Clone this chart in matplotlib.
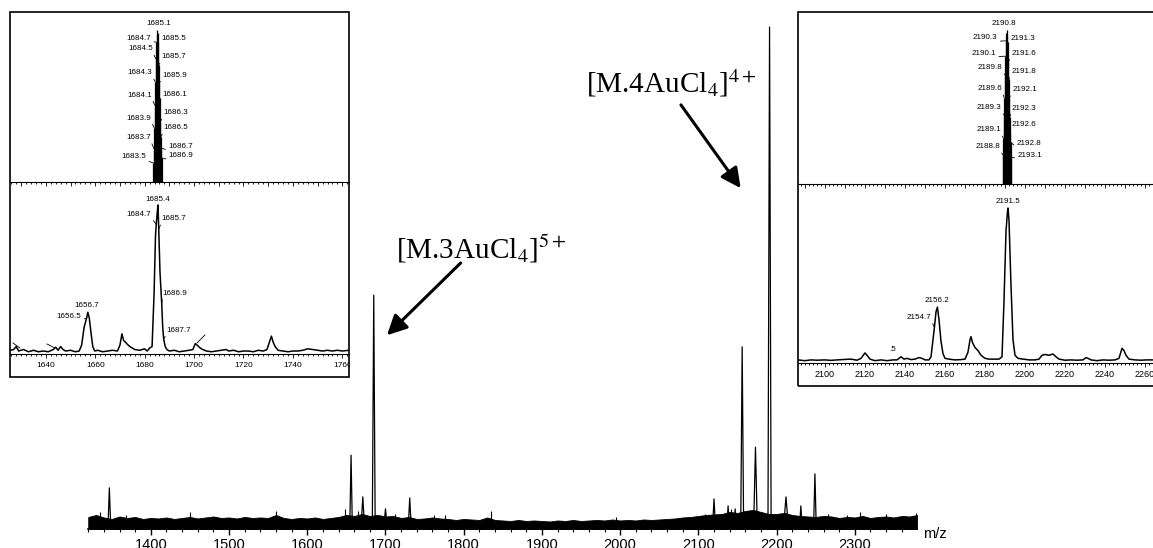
import numpy as np
import matplotlib.pyplot as plt
from matplotlib.patches import Rectangle
from matplotlib.ticker import MultipleLocator

plt.rcParams['font.family'] = ['Liberation Sans', 'DejaVu Sans']
plt.rcParams['mathtext.fontset'] = 'stix'

W, H = 1153, 548

# ---------------- main spectrum (intensity, % of the 2191 peak) ----------------
noise_mz = np.arange(1320, 2390, 10)
noise_top = [2.4, 2.8, 2.3, 2.0, 2.5, 2.2, 2.4, 2.0, 2.2, 2.1,
             2.3, 2.0, 2.2, 2.4, 2.1, 2.3, 2.5, 2.2, 2.3, 2.1,
             2.4, 2.2, 2.3, 2.2, 2.8, 2.2, 2.0, 2.2, 2.1, 2.3,
             2.0, 2.2, 2.4, 2.8, 2.6, 3.0, 2.6, 2.8, 2.5, 2.6,
             2.2, 2.4, 2.0, 2.1, 2.3, 2.1, 2.0, 1.8, 2.0, 1.9,
             1.8, 2.3, 1.8, 1.7, 1.6, 1.8, 1.6, 1.7, 1.6, 1.5,
             1.7, 1.6, 1.8, 1.6, 1.7, 1.8, 1.7, 1.9, 1.7, 1.8,
             1.7, 1.9, 1.8, 1.9, 2.0, 2.1, 2.3, 2.4, 2.6, 2.8,
             2.9, 3.0, 3.4, 3.2, 3.6, 3.8, 3.4, 3.0, 3.0, 3.2,
             2.8, 2.6, 2.5, 2.4, 2.6, 2.5, 2.2, 2.4, 2.3, 2.6,
             2.2, 2.4, 2.5, 2.3, 2.6, 2.5, 2.8]
spike_mz = [1335, 1368, 1450, 1560, 1648, 1665, 1712, 1762, 1776, 1835,
            1995, 2108, 2142, 2266, 2290, 2306, 2340, 2378]
spike_int = [3.3, 2.8, 3.3, 3.6, 4.0, 3.5, 3.0, 2.8, 2.7, 3.6,
             2.4, 3.0, 4.0, 3.0, 2.8, 3.4, 2.9, 3.2]
peak_mz = [1347, 1656, 1671, 1685, 1700, 1731, 2120, 2138, 2147, 2156,
           2173, 2191, 2212, 2231, 2249]
peak_int = [8.2, 14.7, 6.4, 46.6, 4.0, 6.2, 6.0, 4.6, 4.0, 36.3,
            16.3, 100, 6.4, 4.6, 11.0]
peak_hw = [1.5, 1.5, 1.8, 1.8, 1.5, 1.5, 1.5, 1.2, 1.0, 1.8,
           2.2, 2.0, 2.5, 1.2, 1.5]
main_ticks = [1400, 1500, 1600, 1700, 1800, 1900, 2000, 2100, 2200, 2300]

# ---------------- left inset: [M.3AuCl4]5+ ----------------
left_iso_mz = [1683.5, 1683.7, 1683.9, 1684.1, 1684.3, 1684.5, 1684.7, 1684.9, 1685.1,
               1685.3, 1685.5, 1685.7, 1685.9, 1686.1, 1686.3, 1686.5, 1686.7, 1686.9]
left_iso_int = [12.5, 22, 35.5, 50.6, 65.8, 81, 92, 97, 100,
                98, 92, 77, 65, 55, 39.5, 29.6, 22.4, 15.8]
left_trace_mz = [1625.5, 1627, 1628, 1629, 1631, 1633, 1635, 1637, 1639, 1641,
                 1643, 1644, 1645, 1646, 1647, 1648, 1650, 1652, 1653.5, 1654.5,
                 1655.5, 1656.5, 1657, 1657.6, 1658.3, 1659, 1659.8, 1661, 1663, 1665,
                 1667, 1669, 1670, 1670.8, 1671.5, 1672.2, 1673, 1674, 1675, 1676,
                 1678, 1680, 1681, 1682, 1683, 1683.8, 1684.4, 1684.7, 1685.1, 1685.4,
                 1685.7, 1686.2, 1686.9, 1687.3, 1687.7, 1688.3, 1689, 1690, 1692, 1694,
                 1696, 1698, 1699.5, 1700.5, 1701.5, 1702.5, 1703.5, 1705, 1707, 1709,
                 1711, 1713, 1714, 1716, 1718, 1720, 1722, 1724, 1726, 1728,
                 1729.5, 1730.5, 1731.3, 1732, 1732.8, 1734, 1736, 1738, 1740, 1742,
                 1744, 1746, 1748, 1750, 1752, 1754, 1756, 1758, 1760, 1762.7]
left_trace_int = [2.5, 3, 5, 2, 3, 1.5, 2.5, 1.5, 2, 1.5,
                  3, 4.5, 2.5, 5, 3, 2, 2.5, 1.5, 2, 6,
                  18, 24, 28, 24, 14, 5, 2, 2.5, 1.5, 2,
                  2.5, 2, 6, 13.5, 9, 8, 6.5, 5, 4, 3,
                  2.5, 3.5, 2, 4, 5, 40, 80, 87, 95, 100,
                  84, 55, 34, 18, 10, 5, 3, 2, 2.5, 1.5,
                  2, 2.5, 3, 7, 5.5, 4, 3, 2, 1.5, 2,
                  2.5, 3, 2, 2.5, 1.5, 2, 2, 1.5, 2.5, 2,
                  3, 8, 12, 8, 5, 2.5, 2, 1.5, 2, 2,
                  2.5, 3.5, 3, 2.5, 2, 2.5, 2, 2.5, 2, 2.5]
left_peak_mz = [1685.4, 1684.7, 1685.7, 1686.9, 1687.7, 1656.7, 1656.5]
left_peak_int = [100, 87, 84, 34, 10, 28, 24]
left_ticks = [1640, 1660, 1680, 1700, 1720, 1740, 1760]

# ---------------- right inset: [M.4AuCl4]4+ ----------------
right_iso_mz = [2188.8, 2189.1, 2189.3, 2189.6, 2189.8, 2190.1, 2190.3, 2190.6, 2190.8,
                2191.1, 2191.3, 2191.6, 2191.8, 2192.1, 2192.3, 2192.6, 2192.8, 2193.1]
right_iso_int = [19, 30, 45, 56, 71, 83, 93, 98, 100,
                 97, 92, 79, 68, 56, 43.5, 33, 27, 17.5]
right_trace_mz = [2086.5, 2090, 2093, 2096, 2100, 2103, 2106, 2110, 2113, 2116,
                  2118, 2120, 2121, 2122.5, 2125, 2128, 2131, 2134, 2136, 2138,
                  2139.5, 2141, 2143, 2145, 2147, 2148.5, 2150, 2152, 2153, 2154,
                  2154.7, 2155.5, 2156.2, 2157, 2158, 2159, 2160, 2162, 2165, 2168,
                  2170, 2171.5, 2172.5, 2173, 2173.8, 2175, 2176.5, 2178, 2180, 2182,
                  2185, 2187, 2188.5, 2189.5, 2190.5, 2191.2, 2191.5, 2192, 2193, 2194,
                  2195, 2196.5, 2199, 2202, 2205, 2207, 2208.5, 2210, 2212, 2214,
                  2215.5, 2217, 2220, 2223, 2226, 2229, 2230.5, 2231.5, 2233, 2236,
                  2239, 2242, 2245, 2247, 2248.5, 2249.5, 2250.5, 2252, 2255, 2258,
                  2261, 2264]
right_trace_int = [2, 1.5, 2, 1.8, 2, 1.7, 2, 2.3, 2.5, 1.8,
                   3, 6.5, 5, 2.5, 1.5, 2, 1.5, 2, 2, 4,
                   2.5, 3, 2.2, 2.5, 3.5, 3, 2, 2, 4, 15,
                   23, 33, 36, 28, 14, 6, 3, 2.5, 2, 2.2,
                   2.5, 7, 15, 17, 13, 10, 8, 5, 3, 2.5,
                   2.5, 2.5, 4, 40, 85, 97, 100, 92, 50, 15,
                   5, 3, 2.5, 2, 2, 2.5, 5, 5.5, 5, 5.8,
                   4, 2.5, 1.8, 2, 1.8, 2, 3.5, 3, 2, 1.5,
                   2, 1.8, 2, 3, 9.5, 8, 5, 2.5, 2, 1.8,
                   2, 2]
right_peak_mz = [2191.5, 2156.2, 2154.7]
right_peak_int = [100, 36, 23]
right_ticks = [2100, 2120, 2140, 2160, 2180, 2200, 2220, 2240, 2260]


def px_box(x0, y0, x1, y1):
    # pixel box (top-left origin) -> figure fraction [l, b, w, h]
    return [x0 / W, 1 - y1 / H, (x1 - x0) / W, (y1 - y0) / H]


fig = plt.figure(figsize=(W / 100, H / 100), dpi=100)

# ---------------- main axes ----------------
ax = fig.add_axes(px_box(88, 12, 917, 529))
ax.set_xlim(1319.7, 2379.5)
ax.set_ylim(0, 103)
for s in ['left', 'right', 'top']:
    ax.spines[s].set_visible(False)
ax.spines['bottom'].set_linewidth(1.2)
ax.set_yticks([])
ax.set_xticks(main_ticks)
ax.xaxis.set_minor_locator(MultipleLocator(20))
ax.tick_params(axis='x', which='major', length=4.3, width=1.0, pad=2.2, labelsize=10.5)
ax.tick_params(axis='x', which='minor', length=2.2, width=0.8)

ax.fill_between(noise_mz, 0, noise_top, color='black', lw=0.6)
ax.vlines(spike_mz, 0, spike_int, color='black', lw=0.8)
for c, h, w in zip(peak_mz, peak_int, peak_hw):
    ax.plot([c - w, c, c + w], [1.5, h, 1.5], color='black', lw=0.9)

fig.text(923 / W, 1 - 538 / H, 'm/z', fontsize=10.5, va='baseline')

arrow = dict(arrowstyle='-|>,head_length=0.4,head_width=0.2', mutation_scale=30,
             lw=2.2, color='black', shrinkA=0, shrinkB=0)
ax.text(1713.3, 53.8, r'[M.3AuCl$_4$]$^{5+}$', fontsize=21,
        family='Liberation Serif', va='baseline')
ax.annotate('', xy=(1701.9, 38.6), xytext=(1796.1, 53.0), arrowprops=arrow)
ax.text(1956.6, 86.9, r'[M.4AuCl$_4$]$^{4+}$', fontsize=21,
        family='Liberation Serif', va='baseline')
ax.annotate('', xy=(2154.1, 67.9), xytext=(2077.7, 84.5), arrowprops=arrow)


# ---------------- insets ----------------
def frame(x0, y0, x1, y1):
    bg = Rectangle((x0 / W, 1 - y1 / H), (x1 - x0) / W, (y1 - y0) / H,
                   transform=fig.transFigure, facecolor='white', edgecolor='none', zorder=2)
    fr = Rectangle((x0 / W, 1 - y1 / H), (x1 - x0) / W, (y1 - y0) / H,
                   transform=fig.transFigure, facecolor='none', edgecolor='black',
                   lw=1.2, zorder=5)
    fig.add_artist(bg)
    fig.add_artist(fr)


def panel(box, xlim, ylim):
    a = fig.add_axes(box, zorder=3)
    a.set_facecolor('none')
    a.set_xlim(*xlim)
    a.set_ylim(*ylim)
    for s in ['left', 'right', 'top']:
        a.spines[s].set_visible(False)
    a.spines['bottom'].set_linewidth(0.8)
    a.set_yticks([])
    return a


def iso_labels(a, mz, inten, offsets, fs):
    for m, h in zip(mz, inten):
        key = f'{m:.1f}'
        if key not in offsets:
            continue
        dx, dy, side = offsets[key]
        if side == 'top':
            a.annotate(key, xy=(m, h), xytext=(dx, dy), textcoords='offset pixels',
                       ha='center', va='bottom', fontsize=fs)
        else:
            ha = 'right' if side == 'right' else 'left'
            rel = (1, 0) if side == 'right' else (0, 0)
            a.annotate(key, xy=(m, h), xytext=(dx, dy), textcoords='offset pixels',
                       ha=ha, va='center', fontsize=fs,
                       arrowprops=dict(arrowstyle='-', lw=0.6, color='black',
                                       shrinkA=0, shrinkB=0, relpos=rel))


fs_lab = 5.8

# left inset
frame(10, 12, 349, 377)
lt = panel(px_box(10, 12, 349, 182), (1625.5, 1762.7), (0, 111.8))
lt.set_xticks([])
lt.xaxis.set_major_locator(MultipleLocator(10))
lt.xaxis.set_minor_locator(MultipleLocator(2))
lt.tick_params(axis='x', which='major', length=2.6, width=0.6, labelbottom=False)
lt.tick_params(axis='x', which='minor', length=1.5, width=0.6)
lt.vlines(left_iso_mz, 0, left_iso_int, color='black', lw=0.9)
left_offsets = {
    '1683.5': (-7, 6, 'right'), '1683.7': (-3, 11, 'right'), '1683.9': (-3, 10, 'right'),
    '1684.1': (-3, 10, 'right'), '1684.3': (-3, 9, 'right'), '1684.5': (-3, 10, 'right'),
    '1684.7': (-5, 4, 'right'), '1685.1': (2, 3, 'top'), '1685.5': (3, 4, 'left'),
    '1685.7': (3, 8, 'left'), '1685.9': (3, 8, 'left'), '1686.1': (3, 4, 'left'),
    '1686.3': (3, 9, 'left'), '1686.5': (3, 9, 'left'), '1686.7': (7, 1, 'left'),
    '1686.9': (7, 2, 'left'),
}
iso_labels(lt, left_iso_mz, left_iso_int, left_offsets, fs_lab)

lb = panel(px_box(10, 182, 349, 354), (1625.5, 1762.7), (0, 115.4))
lb.set_xticks(left_ticks)
lb.xaxis.set_minor_locator(MultipleLocator(2))
lb.tick_params(axis='x', which='major', length=2.8, width=0.6, pad=3.0, labelsize=6.0)
lb.tick_params(axis='x', which='minor', length=1.5, width=0.6)
lb.plot(left_trace_mz, left_trace_int, color='black', lw=1.1)
left_peak_offsets = [(0, 2, 'top'), (-5, 10, 'right'), (3, 10, 'left'), (1, 10, 'left'),
                     (3, 9, 'left'), (0, 3, 'top'), (-5, 2, 'right')]
for m, h, (dx, dy, side) in zip(left_peak_mz, left_peak_int, left_peak_offsets):
    iso_labels(lb, [m], [h], {f'{m:.1f}': (dx, dy, side)}, fs_lab)
# leader lines of labels that fall outside the inset
for (x0, y0), (x1, y1) in [((1626.7, 7.4), (1629.5, 4.0)), ((1640.5, 6.7), (1643.7, 4.0)),
                           ((1704.4, 12.8), (1701.2, 7.4))]:
    lb.plot([x0, x1], [y0, y1], color='black', lw=0.6)
# clip the last tick label at the inset border
fig.add_artist(Rectangle((350 / W, 1 - 376 / H), 12 / W, 20 / H, transform=fig.transFigure,
                         facecolor='white', edgecolor='none', zorder=6))

# right inset
frame(798, 12, 1165, 386)
rt = panel(px_box(798, 12, 1153, 184), (2086.5, 2264), (0, 111.7))
rt.set_xticks([])
rt.xaxis.set_major_locator(MultipleLocator(10))
rt.xaxis.set_minor_locator(MultipleLocator(2))
rt.tick_params(axis='x', which='major', length=2.6, width=0.6, labelbottom=False)
rt.tick_params(axis='x', which='minor', length=1.5, width=0.6)
rt.vlines(right_iso_mz, 0, right_iso_int, color='black', lw=0.9)
right_offsets = {
    '2188.8': (-2, 8, 'right'), '2189.1': (-2, 8, 'right'), '2189.3': (-2, 7, 'right'),
    '2189.6': (-2, 9, 'right'), '2189.8': (-2, 7, 'right'), '2190.1': (-9, 3, 'right'),
    '2190.3': (-8, 3, 'right'), '2190.8': (-3, 3, 'top'), '2191.3': (3, 4, 'left'),
    '2191.6': (3, 9, 'left'), '2191.8': (3, 8, 'left'), '2192.1': (3, 8, 'left'),
    '2192.3': (2, 9, 'left'), '2192.6': (1, 9, 'left'), '2192.8': (6, -1, 'left'),
    '2193.1': (6, 2, 'left'),
}
iso_labels(rt, right_iso_mz, right_iso_int, right_offsets, fs_lab)

rb = panel(px_box(798, 184, 1153, 363), (2086.5, 2264), (0, 115.5))
rb.set_xticks(right_ticks)
rb.xaxis.set_minor_locator(MultipleLocator(2))
rb.tick_params(axis='x', which='major', length=2.8, width=0.6, pad=2.0, labelsize=6.5)
rb.tick_params(axis='x', which='minor', length=1.5, width=0.6)
rb.plot(right_trace_mz, right_trace_int, color='black', lw=1.1)
right_peak_offsets = [(0, 3, 'top'), (0, 3, 'top'), (-3, 10, 'right')]
for m, h, (dx, dy, side) in zip(right_peak_mz, right_peak_int, right_peak_offsets):
    iso_labels(rb, [m], [h], {f'{m:.1f}': (dx, dy, side)}, fs_lab)
rb.text(2134, 6.5, '.5', fontsize=fs_lab, ha='center', va='bottom')

fig.savefig('out.png', dpi=100)
